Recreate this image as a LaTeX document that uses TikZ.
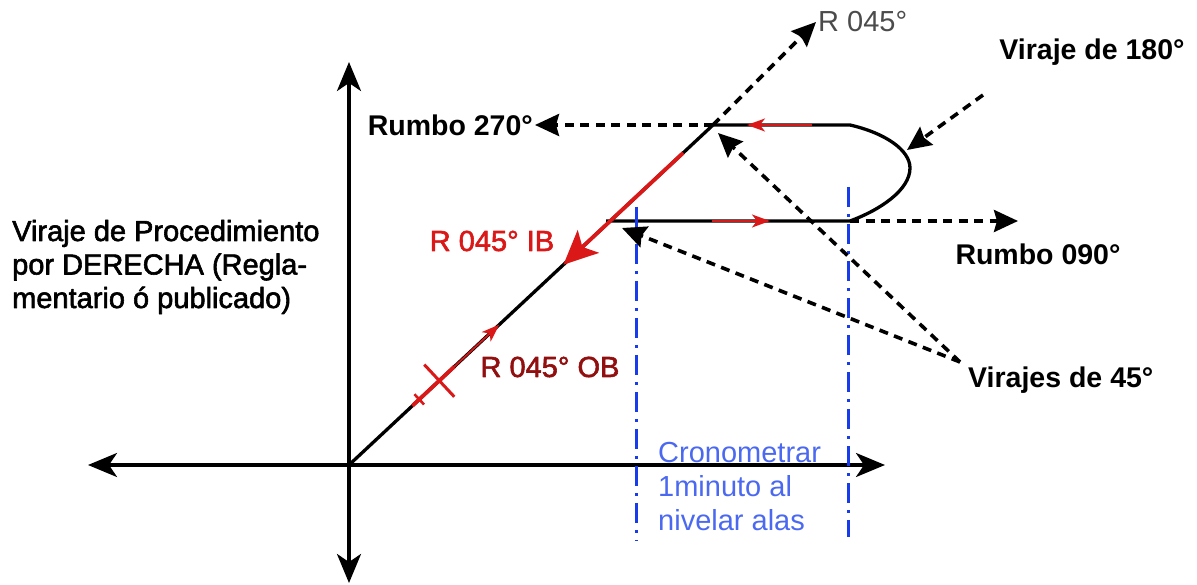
\documentclass[tikz,border=0pt]{standalone}
\usepackage{fontspec}
\setmainfont{Liberation Sans}
\newfontfamily\medfont[FakeBold=2]{Liberation Sans}
\usetikzlibrary{arrows.meta,calc}
\definecolor{trackred}{RGB}{218,24,24}
\definecolor{obred}{RGB}{145,15,15}
\definecolor{timeblue}{RGB}{25,60,235}
\definecolor{textblue}{RGB}{75,105,240}
\definecolor{labelgray}{RGB}{75,75,75}
\tikzset{
  axisline/.style={line width=3.2pt,{Stealth[length=29pt,width=24pt,inset=8pt]}-{Stealth[length=29pt,width=24pt,inset=8pt]}},
  trackline/.style={line width=3.3pt},
  redthick/.style={trackred,line width=3.8pt},
  redthin/.style={trackred,line width=1.8pt,-{Stealth[length=18pt,width=13pt,inset=5pt]}},
  guide/.style={line width=3.6pt,dash pattern=on 9pt off 6.5pt,-{Stealth[length=24pt,width=22pt,inset=3pt]}},
  timeline/.style={timeblue,line width=3pt,dash pattern=on 20pt off 7pt on 3pt off 7pt},
  boldlbl/.style={font=\fontsize{28.5}{33}\selectfont\bfseries,inner sep=2pt},
  plainlbl/.style={font=\medfont\fontsize{29}{33.5}\selectfont,inner sep=2pt},
}
\begin{document}
\begin{tikzpicture}[x=1pt,y=-1pt,line join=round]
\useasboundingbox (0,0) rectangle (1197,585);
% axes
\coordinate (O) at (349,465);
\coordinate (xl) at (88,465);
\coordinate (xr) at (885,465);
\coordinate (yt) at (349,62);
\coordinate (yb) at (349,583);
\draw[axisline] (xl) -- (xr);
\draw[axisline] (yb) -- (yt);
% track
\coordinate (A) at (713,125);
\coordinate (B) at (850,125);
\coordinate (C) at (850,221);
\coordinate (D) at (606,221);
\draw[trackline] (O) -- (A) -- (B) .. controls (885,133) and (910,150) .. (910,168)
  .. controls (910,190) and (880,210) .. (C) -- (D);
% red overlays
\draw[redthick,-{Stealth[length=34pt,width=31pt,inset=8pt]}] ($(A)!0.082!(O)$) -- ($(A)!0.411!(O)$);
\draw[redthick] ($(O)!0.174!(A)$) -- ($(O)!0.289!(A)$);
\draw[redthin] ($(O)!0.289!(A)$) -- ($(O)!0.413!(A)$);
\coordinate (X) at ($(O)!0.248!(A)$);
\draw[trackred,line width=3pt] ($(X)!22pt!90:(A)$) -- ($(X)!22pt!-90:(A)$);
\coordinate (T) at ($(O)!0.193!(A)$);
\draw[trackred,line width=2.6pt] ($(T)!7pt!90:(A)$) -- ($(T)!7pt!-90:(A)$);
\draw[redthin] ($(A)!0.723!(B)$) -- ($(A)!0.248!(B)$);
\draw[redthin] ($(D)!0.434!(C)$) -- ($(D)!0.672!(C)$);
% timing lines
\coordinate (t1a) at (636,207);
\coordinate (t1b) at (636,541);
\coordinate (t2a) at (848,187);
\coordinate (t2b) at (848,537);
\draw[timeline] (t1a) -- (t1b);
\draw[timeline] (t2a) -- (t2b);
% labels
\node[plainlbl,anchor=west,align=left] (proc) at (10,267) {Viraje de Procedimiento\\por DERECHA (Regla-\\mentario ó publicado)};
\node[font=\fontsize{29}{33}\selectfont,inner sep=2pt,labelgray,anchor=west] (r45) at (816,22) {R 045°};
\node[boldlbl,anchor=east] (r270) at (535,125) {Rumbo 270°};
\node[boldlbl] (r90) at (1038,254) {Rumbo 090°};
\node[boldlbl] (v180) at (1092,52) {Viraje de 180°};
\node[boldlbl,anchor=west] (v45) at (966,380) {Virajes de 45°};
\node[plainlbl,trackred] (ib) at (492,241) {R 045° IB};
\node[plainlbl,obred] (ob) at (550,367) {R 045° OB};
\node[textblue,anchor=west,align=left,inner sep=2pt,font=\fontsize{29}{34}\selectfont] (crono) at (656,487) {Cronometrar\\1minuto al\\nivelar alas};
% guide arrows
\coordinate (e90) at (1018,221);
\coordinate (v180s) at (983,95);
\coordinate (v180t) at (907,150);
\coordinate (v45s) at (960,362);
\coordinate (g1) at (718,133);
\coordinate (g2) at (622,228);
\draw[guide] (A) -- (r45.west);
\draw[guide] (A) -- (r270.east);
\draw[guide] (C) -- (e90);
\draw[guide] (v180s) -- (v180t);
\draw[guide] (v45s) -- (g1);
\draw[guide] (v45s) -- (g2);
\end{tikzpicture}
\end{document}
